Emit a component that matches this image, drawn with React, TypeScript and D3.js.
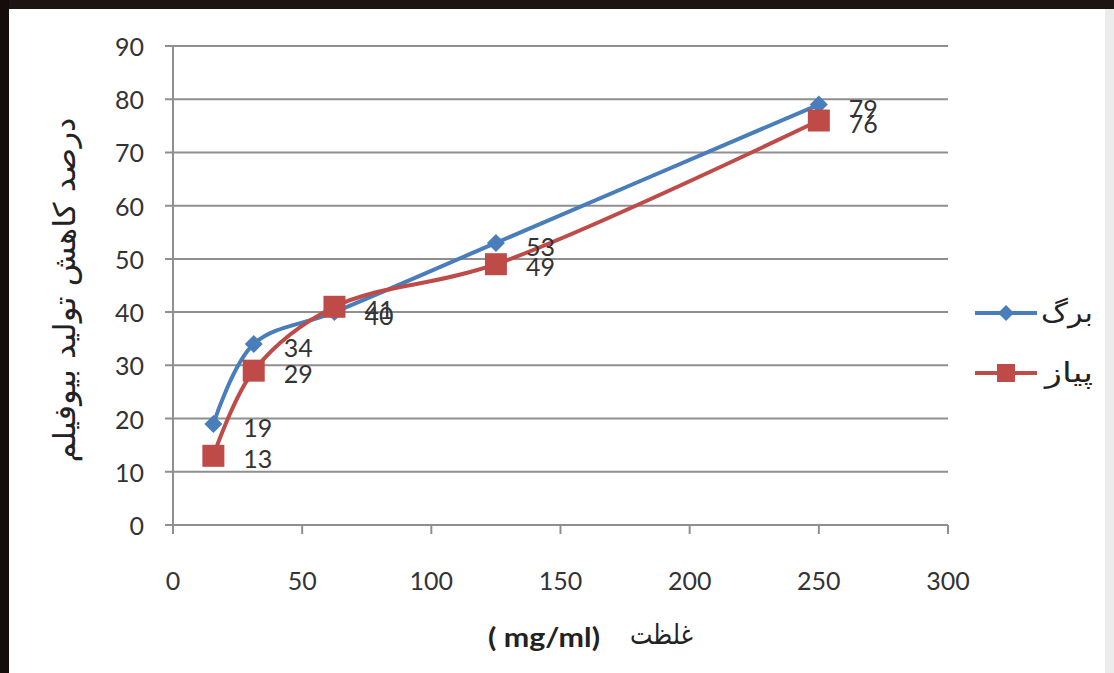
import React from "react";
import * as d3 from "d3";

// Concentration (mg/ml) and biofilm reduction percentages
const concentrations = [15.625, 31.25, 62.5, 125, 250];
const leafValues = [19, 34, 40, 53, 79];
const onionValues = [13, 29, 41, 49, 76];
const xTicks = [0, 50, 100, 150, 200, 250, 300];
const yTicks = [0, 10, 20, 30, 40, 50, 60, 70, 80, 90];
const seriesNames = ["برگ", "پیاز"];

const W = 1114;
const H = 673;
const BLUE = "#4A7EBB";
const RED = "#BE4B48";
const GRID = "#8f8f8f";
const FONT = "Lato, 'Open Sans', sans-serif";
const AR_FONT = "'DejaVu Sans', sans-serif";

export default function App() {
  const x = d3.scaleLinear().domain([0, 300]).range([173, 948]);
  const y = d3.scaleLinear().domain([0, 90]).range([525, 46]);

  const line = d3
    .line<[number, number]>()
    .x((d) => x(d[0]))
    .y((d) => y(d[1]))
    .curve(d3.curveCatmullRom.alpha(0.5));

  const leafPts: [number, number][] = concentrations.map((c, i) => [c, leafValues[i]]);
  const onionPts: [number, number][] = concentrations.map((c, i) => [c, onionValues[i]]);

  const diamond = (cx: number, cy: number, r: number) =>
    `M${cx},${cy - r}L${cx + r},${cy}L${cx},${cy + r}L${cx - r},${cy}Z`;

  return (
    <svg
      width={W}
      height={H}
      style={{ position: "absolute", left: 0, top: 0, display: "block" }}
    >
      <rect x={0} y={0} width={W} height={H} fill="#ffffff" />
      {/* frame */}
      <rect x={0} y={0} width={W} height={9} fill="#1e1512" />
      <rect x={0} y={0} width={9} height={H} fill="#140d0b" />
      <rect x={1105} y={9} width={9} height={H - 9} fill="#ececec" />

      {/* horizontal gridlines and y ticks */}
      {yTicks.map((t) => (
        <line
          key={"g" + t}
          x1={165}
          x2={948}
          y1={y(t)}
          y2={y(t)}
          stroke={GRID}
          strokeWidth={2}
        />
      ))}
      {/* y axis */}
      <line x1={x(0)} x2={x(0)} y1={y(90)} y2={y(0)} stroke={GRID} strokeWidth={2} />
      {/* x ticks */}
      {xTicks.map((t) => (
        <line
          key={"xt" + t}
          x1={x(t)}
          x2={x(t)}
          y1={y(0)}
          y2={y(0) + 9}
          stroke={GRID}
          strokeWidth={2}
        />
      ))}

      {/* tick labels */}
      {yTicks.map((t) => (
        <text
          key={"yl" + t}
          x={144}
          y={y(t)}
          textAnchor="end"
          dominantBaseline="central"
          fontFamily={FONT}
          fontSize={25}
          fill="#333"
        >
          {t}
        </text>
      ))}
      {xTicks.map((t) => (
        <text
          key={"xl" + t}
          x={x(t)}
          y={580}
          textAnchor="middle"
          dominantBaseline="central"
          fontFamily={FONT}
          fontSize={25}
          fill="#333"
        >
          {t}
        </text>
      ))}

      {/* series lines */}
      <path d={line(leafPts) || ""} fill="none" stroke={BLUE} strokeWidth={4} />
      <path d={line(onionPts) || ""} fill="none" stroke={RED} strokeWidth={4} />

      {/* markers */}
      {leafPts.map((p, i) => (
        <path key={"lm" + i} d={diamond(x(p[0]), y(p[1]), 9)} fill={BLUE} />
      ))}
      {onionPts.map((p, i) => (
        <rect
          key={"om" + i}
          x={x(p[0]) - 11}
          y={y(p[1]) - 11}
          width={22}
          height={22}
          fill={RED}
        />
      ))}

      {/* data labels */}
      {leafPts.map((p, i) => (
        <text
          key={"ll" + i}
          x={x(p[0]) + 30}
          y={y(p[1]) + 3}
          dominantBaseline="central"
          fontFamily={FONT}
          fontSize={25}
          fill="#333"
        >
          {p[1]}
        </text>
      ))}
      {onionPts.map((p, i) => (
        <text
          key={"ol" + i}
          x={x(p[0]) + 30}
          y={y(p[1]) + 2}
          dominantBaseline="central"
          fontFamily={FONT}
          fontSize={25}
          fill="#333"
        >
          {p[1]}
        </text>
      ))}

      {/* legend */}
      <line x1={975} x2={1037} y1={313} y2={313} stroke={BLUE} strokeWidth={4} />
      <path d={diamond(1006, 313, 8)} fill={BLUE} />
      <text
        x={1093}
        y={312}
        textAnchor="end"
        dominantBaseline="central"
        fontFamily={AR_FONT}
        fontSize={27}
        textLength={52}
        lengthAdjust="spacingAndGlyphs"
        fill="#222"
      >
        {seriesNames[0]}
      </text>
      <line x1={975} x2={1037} y1={373} y2={373} stroke={RED} strokeWidth={4} />
      <rect x={997} y={364} width={18} height={18} fill={RED} />
      <text
        x={1093}
        y={372}
        textAnchor="end"
        dominantBaseline="central"
        fontFamily={AR_FONT}
        fontSize={27}
        textLength={48}
        lengthAdjust="spacingAndGlyphs"
        fill="#222"
      >
        {seriesNames[1]}
      </text>

      {/* axis titles */}
      <text
        x={488}
        y={636}
        dominantBaseline="central"
        fontFamily={FONT}
        fontWeight="bold"
        fontSize={27}
        textLength={112}
        lengthAdjust="spacingAndGlyphs"
        fill="#222"
      >
        ( mg/ml)
      </text>
      <text
        x={693}
        y={634}
        textAnchor="end"
        dominantBaseline="central"
        fontFamily={AR_FONT}
        fontSize={28}
        textLength={63}
        lengthAdjust="spacingAndGlyphs"
        fill="#222"
      >
        غلظت
      </text>
      <text
        transform="translate(64,290) rotate(-90)"
        textAnchor="middle"
        dominantBaseline="central"
        fontFamily={AR_FONT}
        fontSize={30}
        textLength={345}
        lengthAdjust="spacingAndGlyphs"
        fill="#222"
      >
        درصد کاهش تولید بیوفیلم
      </text>
    </svg>
  );
}
